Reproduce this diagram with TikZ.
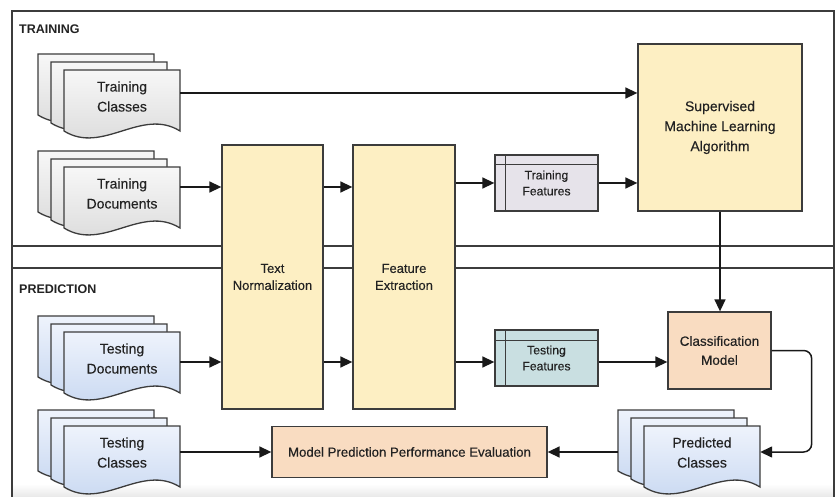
\documentclass[tikz,border=0pt]{standalone}
\usepackage{fontspec}
\setmainfont{Liberation Sans}
\newfontfamily\medfont{Liberation Sans}[FakeBold=0.25]
\usetikzlibrary{arrows.meta}
\definecolor{linec}{HTML}{3C3C3C}
\definecolor{txtc}{HTML}{222222}
\definecolor{yel}{HTML}{FDEFC3}
\definecolor{peach}{HTML}{F9DCC1}
\definecolor{trfeat}{HTML}{E6E3EA}
\definecolor{tsfeat}{HTML}{C9DFE1}
\definecolor{gtop}{HTML}{F7F7F7}
\definecolor{gbot}{HTML}{D8D8D8}
\definecolor{btop}{HTML}{EEF3FC}
\definecolor{bbot}{HTML}{C4D5F0}
\newcommand\docstack[5]{%
  \foreach \dx/\dy in {-26/-16,-13/-8,0/0}{%
    \path[docpage,#4] (#2+\dx,#3+\dy) -- (#2+\dx+116,#3+\dy) -- (#2+\dx+116,#3+\dy+61)
      .. controls (#2+\dx+77.3,#3+\dy+37) and (#2+\dx+38.7,#3+\dy+85) .. (#2+\dx,#3+\dy+61) -- cycle;
  }
  \node[doctext] (#1) at (#2+58,#3+26.5) {#5};
}
\begin{document}
\begin{tikzpicture}[x=1pt,y=-1pt,
  box/.style={draw=linec, line width=1.3pt, align=center, inner sep=0pt, text=txtc},
  docpage/.style={draw=linec, line width=1.3pt},
  gray doc/.style={top color=gtop, bottom color=gbot},
  blue doc/.style={top color=btop, bottom color=bbot},
  doctext/.style={minimum width=116pt, minimum height=53pt, inner sep=0pt, align=center, text=txtc, font=\medfont\fontsize{14}{20}\selectfont},
  arr/.style={draw=black!90, line width=1.5pt, -{Triangle[length=12pt,width=11pt]}},
  sect/.style={font=\bfseries\fontsize{12.5}{14}\selectfont, text=txtc, anchor=west, inner sep=0pt}
  ]
\useasboundingbox (0,0) rectangle (836,497);
% bottom shadow band
\shade[top color=white, bottom color=black!9] (13,484) rectangle (833,497);
% frame and separators
\draw[line width=2pt, color=linec] (12,497) -- (12,11) -- (834,11) -- (834,497);
\draw[line width=1.5pt, color=linec] (12,246) -- (834,246);
\draw[line width=1.5pt, color=linec] (12,268) -- (834,268);
\node[sect] (trl) at (19,29) {TRAINING};
\node[sect] (prl) at (19,289) {PREDICTION};
% documents
\docstack{tcls}{64}{70}{gray doc}{Training\\Classes}
\docstack{tdoc}{64}{167}{gray doc}{Training\\Documents}
\docstack{tsdoc}{64}{332}{blue doc}{Testing\\Documents}
\docstack{tscls}{64}{426}{blue doc}{Testing\\Classes}
\docstack{pcls}{644}{426}{blue doc}{Predicted\\Classes}
% process boxes
\node[box, fill=yel, minimum width=101pt, minimum height=264pt, font=\medfont\fontsize{13}{17}\selectfont] (tn) at (272.5,277) {Text\\Normalization};
\node[box, fill=yel, minimum width=102pt, minimum height=264pt, font=\medfont\fontsize{13}{17}\selectfont] (fe) at (404,277) {Feature\\Extraction};
\node[box, fill=trfeat, minimum width=103pt, minimum height=56pt, font=\medfont\fontsize{12.2}{16}\selectfont] (trf) at (546.5,183) {Training\\Features};
\node[box, fill=tsfeat, minimum width=103pt, minimum height=56pt, font=\medfont\fontsize{12.2}{16}\selectfont] (tsf) at (546.5,358) {Testing\\Features};
\draw[linec, line width=1.3pt] ([yshift=-10pt]trf.north west) -- ([yshift=-10pt]trf.north east);
\draw[linec, line width=1.3pt] ([xshift=11pt]trf.north west) -- ([xshift=11pt]trf.south west);
\draw[linec, line width=1.3pt] ([yshift=-11pt]tsf.north west) -- ([yshift=-11pt]tsf.north east);
\draw[linec, line width=1.3pt] ([xshift=11pt]tsf.north west) -- ([xshift=11pt]tsf.south west);
\node[box, fill=yel, minimum width=164pt, minimum height=167pt, font=\medfont\fontsize{14}{20}\selectfont] (sml) at (720,127.5) {Supervised\\Machine Learning\\Algorithm};
\node[box, fill=peach, minimum width=103pt, minimum height=77pt, font=\medfont\fontsize{13.5}{19}\selectfont] (cm) at (719.5,350.5) {Classification\\Model};
\node[box, fill=peach, minimum width=275pt, minimum height=51pt, font=\medfont\fontsize{13.2}{16}\selectfont] (mpe) at (409.5,452) {Model Prediction Performance Evaluation};
% connectors
\draw[arr] ([yshift=0.5pt]tscls.east) -- ([yshift=0.5pt]tscls.east -| mpe.west);
\draw[arr] ([xshift=-26pt,yshift=0.5pt]pcls.west) -- (mpe.east);
\draw[arr] ([yshift=3.5pt]tcls.east) -- ([yshift=3.5pt]tcls.east -| sml.west);
\draw[arr] ([yshift=6.5pt]tdoc.east) -- ([yshift=6.5pt]tdoc.east -| tn.west);
\draw[arr] ([yshift=-3.5pt]tsdoc.east) -- ([yshift=-3.5pt]tsdoc.east -| tn.west);
\draw[arr] ([yshift=90pt]tn.east) -- ([yshift=90pt]tn.east -| fe.west);
\draw[arr] ([yshift=-85pt]tn.east) -- ([yshift=-85pt]tn.east -| fe.west);
\draw[arr] (trf.west -| fe.east) -- (trf.west);
\draw[arr] ([yshift=-4pt]tsf.west -| fe.east) -- ([yshift=-4pt]tsf.west);
\draw[arr] (trf.east) -- (trf.east -| sml.west);
\draw[arr] ([yshift=-4pt]tsf.east) -- ([yshift=-4pt]tsf.east -| cm.west);
\draw[arr] (sml.south) -- (sml.south |- cm.north);
\draw[arr, rounded corners=8pt] (cm.east) -- ++(40,0) |- ([yshift=0.5pt]pcls.east);
\end{tikzpicture}
\end{document}
